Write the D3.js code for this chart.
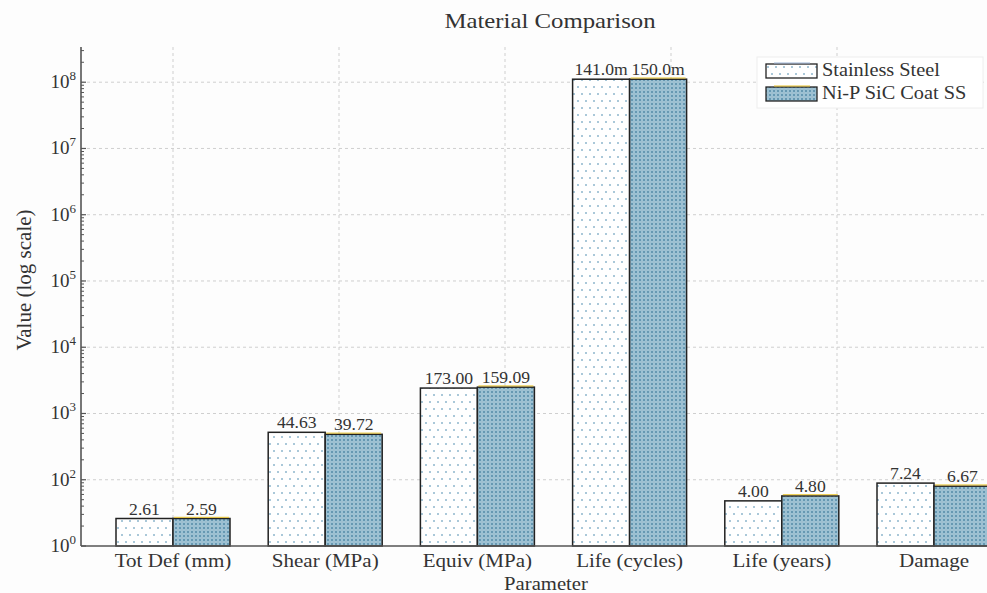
<!DOCTYPE html>
<html>
<head>
<meta charset="utf-8">
<script src="https://cdn.jsdelivr.net/npm/d3@7"></script>
<style>
  body { margin: 0; background: #fdfdfd; }
  text { font-family: "Liberation Serif", "Times New Roman", serif; fill: #333; }
</style>
</head>
<body>
<div id="chart"></div>
<script>
// categories and values
var categories = ["Tot Def (mm)", "Shear (MPa)", "Equiv (MPa)", "Life (cycles)", "Life (years)", "Damage"];
var seriesNames = ["Stainless Steel", "Ni-P SiC Coat SS"];
// bar heights (as drawn on the log axis)
var steelValues = [26, 520, 2420, 1.11e8, 48, 89];
var coatValues = [26, 485, 2500, 1.11e8, 57, 80];
// the text printed above each bar
var steelLabels = ["2.61", "44.63", "173.00", "141.0m", "4.00", "7.24"];
var coatLabels = ["2.59", "39.72", "159.09", "150.0m", "4.80", "6.67"];
// y tick positions and the exponent shown next to them
var yTickValues = [1e1, 1e2, 1e3, 1e4, 1e5, 1e6, 1e7, 1e8];
var yTickExps = ["0", "2", "3", "4", "5", "6", "7", "8"];

var WIDTH = 987, HEIGHT = 593;
var LEFT = 81, RIGHT = 990, TOP = 47, BOTTOM = 546;
var BAR_W = 57;

var svg = d3.select("#chart").append("svg")
    .attr("width", WIDTH)
    .attr("height", HEIGHT);

// the original text is a little wider than the font, so stretch it sideways
function stretch(sx) {
    return function(x, y) { return "translate(" + x + "," + y + ") scale(" + sx + ",1)"; };
}

// patterns
var defs = svg.append("defs");
var dots = defs.append("pattern")
    .attr("id", "dots").attr("patternUnits", "userSpaceOnUse")
    .attr("width", 8).attr("height", 14);
dots.append("rect").attr("width", 8).attr("height", 14).attr("fill", "#fff");
dots.append("circle").attr("cx", 2).attr("cy", 3).attr("r", 0.8).attr("fill", "#3d83aa");
dots.append("circle").attr("cx", 6).attr("cy", 10).attr("r", 0.8).attr("fill", "#3d83aa");

var cross = defs.append("pattern")
    .attr("id", "cross").attr("patternUnits", "userSpaceOnUse")
    .attr("width", 4).attr("height", 4);
cross.append("rect").attr("width", 4).attr("height", 4).attr("fill", "#9cc2d4");
cross.append("path").attr("d", "M0,0L4,4M4,0L0,4")
    .attr("stroke", "#336f90").attr("stroke-width", 0.5);
cross.append("circle").attr("cx", 2).attr("cy", 2).attr("r", 0.75).attr("fill", "#f2f8fb");

// scales
var x = d3.scalePoint()
    .domain(categories)
    .range([173, 934]);

var y = d3.scaleLog()
    .domain([10, 3.4e8])
    .range([BOTTOM, TOP]);

var xGrid = d3.scaleLinear().domain([0, 4]).range([173, 837]);

// grid
svg.append("g").selectAll("line")
    .data(yTickValues.slice(1))
    .enter().append("line")
    .attr("x1", LEFT).attr("x2", RIGHT)
    .attr("y1", function(d) { return y(d); })
    .attr("y2", function(d) { return y(d); })
    .attr("stroke", "#cfcfcf").attr("stroke-dasharray", "3,3").attr("stroke-width", 1);

svg.append("g").selectAll("line")
    .data(xGrid.ticks(4))
    .enter().append("line")
    .attr("x1", function(d) { return xGrid(d); })
    .attr("x2", function(d) { return xGrid(d); })
    .attr("y1", TOP).attr("y2", BOTTOM)
    .attr("stroke", "#cfcfcf").attr("stroke-dasharray", "3,3").attr("stroke-width", 1);

// bars
var rows = categories.map(function(c, i) {
    return { cat: c, steel: steelValues[i], coat: coatValues[i], sl: steelLabels[i], cl: coatLabels[i] };
});

var groups = svg.append("g").selectAll("g")
    .data(rows)
    .enter().append("g");

groups.append("rect")
    .attr("x", function(d) { return x(d.cat) - BAR_W; })
    .attr("y", function(d) { return y(d.steel); })
    .attr("width", BAR_W)
    .attr("height", function(d) { return BOTTOM - y(d.steel); })
    .attr("fill", "url(#dots)")
    .attr("stroke", "#222").attr("stroke-width", 1.5);

groups.append("rect")
    .attr("x", function(d) { return x(d.cat); })
    .attr("y", function(d) { return y(d.coat); })
    .attr("width", BAR_W)
    .attr("height", function(d) { return BOTTOM - y(d.coat); })
    .attr("fill", "url(#cross)")
    .attr("stroke", "#222").attr("stroke-width", 1.5);

// thin gold edge on top of the coated bars
groups.append("line")
    .attr("x1", function(d) { return x(d.cat) + 1; })
    .attr("x2", function(d) { return x(d.cat) + BAR_W - 1; })
    .attr("y1", function(d) { return y(d.coat) - 1.2; })
    .attr("y2", function(d) { return y(d.coat) - 1.2; })
    .attr("stroke", "#e8c22a").attr("stroke-width", 1);

// value labels
var valPos = stretch(1.1);
groups.append("text")
    .attr("transform", function(d) { return valPos(x(d.cat) - BAR_W / 2, y(d.steel) - 4); })
    .attr("text-anchor", "middle")
    .style("font-size", "16px")
    .text(function(d) { return d.sl; });

groups.append("text")
    .attr("transform", function(d) { return valPos(x(d.cat) + BAR_W / 2, y(d.coat) - 4); })
    .attr("text-anchor", "middle")
    .style("font-size", "16px")
    .text(function(d) { return d.cl; });

// y axis with minor ticks
var minor = [];
yTickValues.forEach(function(v) {
    for (var k = 2; k <= 9; k++) { if (v * k <= y.domain()[1]) minor.push(v * k); }
});
svg.append("g").selectAll("line")
    .data(minor)
    .enter().append("line")
    .attr("x1", LEFT).attr("x2", LEFT + 3)
    .attr("y1", function(d) { return y(d); })
    .attr("y2", function(d) { return y(d); })
    .attr("stroke", "#555").attr("stroke-width", 1);

svg.append("g").selectAll("line")
    .data(yTickValues)
    .enter().append("line")
    .attr("x1", LEFT).attr("x2", LEFT + 5)
    .attr("y1", function(d) { return y(d); })
    .attr("y2", function(d) { return y(d); })
    .attr("stroke", "#555").attr("stroke-width", 1.2);

var yLabels = svg.append("g").selectAll("text")
    .data(yTickValues)
    .enter().append("text")
    .attr("x", 76)
    .attr("y", function(d) { return y(d) + 6; })
    .attr("text-anchor", "end")
    .style("font-size", "19px");
yLabels.append("tspan").text("10");
yLabels.append("tspan")
    .attr("dy", -8)
    .style("font-size", "13px")
    .text(function(d, i) { return yTickExps[i]; });

// spines
svg.append("line")
    .attr("x1", LEFT).attr("x2", LEFT).attr("y1", TOP).attr("y2", BOTTOM)
    .attr("stroke", "#555").attr("stroke-width", 1.6);
svg.append("line")
    .attr("x1", LEFT).attr("x2", RIGHT).attr("y1", BOTTOM).attr("y2", BOTTOM)
    .attr("stroke", "#555").attr("stroke-width", 1.6);

// x tick labels
var tickPos = stretch(1.17);
svg.append("g").selectAll("text")
    .data(categories)
    .enter().append("text")
    .attr("transform", function(d) { return tickPos(x(d), 567); })
    .attr("text-anchor", "middle")
    .style("font-size", "18px")
    .text(function(d) { return d; });

// titles
svg.append("text")
    .attr("transform", stretch(1.18)(550, 28))
    .attr("text-anchor", "middle")
    .style("font-size", "21px")
    .text("Material Comparison");

svg.append("text")
    .attr("transform", stretch(1.15)(546, 590))
    .attr("text-anchor", "middle")
    .style("font-size", "18px")
    .text("Parameter");

svg.append("text")
    .attr("transform", "translate(31,280) rotate(-90)")
    .attr("text-anchor", "middle")
    .style("font-size", "21px")
    .text("Value (log scale)");

// legend
var legend = svg.append("g");
legend.append("rect")
    .attr("x", 757).attr("y", 57).attr("width", 226).attr("height", 51)
    .attr("fill", "#fff").attr("stroke", "#eeeeee");

var fills = ["url(#dots)", "url(#cross)"];
var tops = ["#9fb6d8", "#e8c22a"];
var items = legend.selectAll("g")
    .data(seriesNames)
    .enter().append("g")
    .attr("transform", function(d, i) { return "translate(766," + (64 + i * 23) + ")"; });
items.append("rect")
    .attr("width", 51).attr("height", 14)
    .attr("fill", function(d, i) { return fills[i]; })
    .attr("stroke", "#222").attr("stroke-width", 1.3);
items.append("line")
    .attr("x1", 8).attr("x2", 44).attr("y1", -1).attr("y2", -1)
    .attr("stroke", function(d, i) { return tops[i]; }).attr("stroke-width", 1);
items.append("text")
    .attr("transform", stretch(1.07)(56, 12))
    .style("font-size", "19px")
    .text(function(d) { return d; });
</script>
</body>
</html>
